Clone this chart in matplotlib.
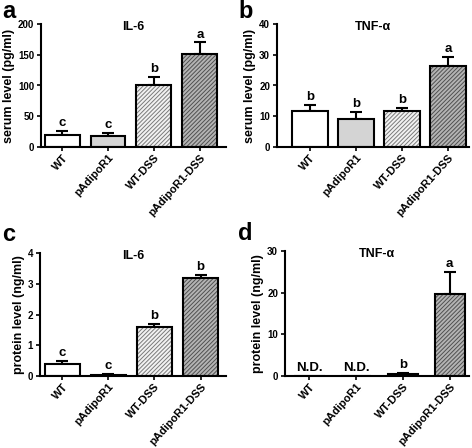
import matplotlib
matplotlib.use("Agg")
from matplotlib import pyplot as plt

plt.rcParams['font.family'] = ['Liberation Sans', 'DejaVu Sans']
plt.rcParams['font.weight'] = 'bold'
plt.rcParams['hatch.linewidth'] = 0.7

groups = ['WT', 'pAdipoR1', 'WT-DSS', 'pAdipoR1-DSS']

il6_serum = [20, 18, 101, 152]
il6_serum_err = [6, 5, 13, 18]
il6_serum_sig = ['c', 'c', 'b', 'a']

tnf_serum = [11.8, 9.0, 11.8, 26.2]
tnf_serum_err = [2.0, 2.3, 1.0, 3.2]
tnf_serum_sig = ['b', 'b', 'b', 'a']

il6_protein = [0.38, 0.04, 1.6, 3.18]
il6_protein_err = [0.1, 0.04, 0.1, 0.12]
il6_protein_sig = ['c', 'c', 'b', 'b']

tnf_protein = [0, 0, 0.5, 19.6]
tnf_protein_err = [0, 0, 0.2, 5.3]
tnf_protein_sig = ['N.D.', 'N.D.', 'b', 'a']

fills = ['white', '#d4d4d4', '#f2f2f2', '#b4b4b4']
hatches = [None, None, '////////', '////////']
hatch_cols = ['white', '#d4d4d4', '#7a7a7a', '#505050']

W, H = 472, 448


def panel(box, vals, errs, sig, title, ylabel, ymax, yticks, letter, letter_xy, xlim, width, sig_off):
    l, t, r, b = box
    ax = fig.add_axes([l / W, 1 - b / H, (r - l) / W, (b - t) / H])
    x = range(len(groups))
    for i in x:
        ax.bar(i, vals[i], width=width, color=fills[i], hatch=hatches[i],
               edgecolor=hatch_cols[i], linewidth=0, zorder=2)
    ax.bar(x, vals, width=width, fill=False, edgecolor='black', linewidth=1.5, zorder=3)
    for i in x:
        if errs[i] > 0:
            ax.errorbar(i, vals[i], yerr=[[0], [errs[i]]], color='black',
                        capsize=4.5, elinewidth=1.5, capthick=1.5, zorder=1)
        ax.text(i, vals[i] + errs[i] + sig_off, sig[i], ha='center', va='bottom',
                fontsize=9.5, fontweight='bold')
    ax.set_xlim(*xlim)
    ax.set_ylim(0, ymax)
    ax.set_yticks(yticks)
    ax.set_xticks(list(x))
    ax.set_xticklabels(groups, rotation=48, ha='right', rotation_mode='anchor',
                       fontsize=8, fontweight='bold')
    ax.tick_params(axis='y', labelsize=7, width=1.2, length=3, pad=2)
    ax.tick_params(axis='x', width=1.2, length=3, pad=1)
    for s in ['top', 'right']:
        ax.spines[s].set_visible(False)
    for s in ['left', 'bottom']:
        ax.spines[s].set_linewidth(1.5)
    ax.set_title(title, fontsize=9, fontweight='bold', pad=2, y=0.93)
    ax.set_ylabel(ylabel, fontsize=9, fontweight='bold', labelpad=2)
    fig.text(letter_xy[0] / W, 1 - letter_xy[1] / H, letter, fontsize=17,
             fontweight='bold', va='top', ha='left')
    return ax


fig = plt.figure(figsize=(4.72, 4.48), dpi=100)

panel((41, 24, 226, 147), il6_serum, il6_serum_err, il6_serum_sig,
      'IL-6', 'serum level (pg/ml)', 200, [0, 50, 100, 150, 200], 'a', (2, 0),
      (-0.46, 3.57), 0.76, 3)
panel((277, 24, 469, 147), tnf_serum, tnf_serum_err, tnf_serum_sig,
      'TNF-α', 'serum level (pg/ml)', 40, [0, 10, 20, 30, 40], 'b', (238, 0),
      (-0.72, 3.46), 0.78, 0.6)
panel((40, 253, 226, 376), il6_protein, il6_protein_err, il6_protein_sig,
      'IL-6', 'protein level (ng/ml)', 4, [0, 1, 2, 3, 4], 'c', (2, 223),
      (-0.48, 3.55), 0.76, 0.06)
panel((285, 251, 469, 376), tnf_protein, tnf_protein_err, tnf_protein_sig,
      'TNF-α', 'protein level (ng/ml)', 30, [0, 10, 20, 30], 'd', (238, 222),
      (-0.52, 3.41), 0.65, 0.45)

fig.savefig('out.png', dpi=100)
